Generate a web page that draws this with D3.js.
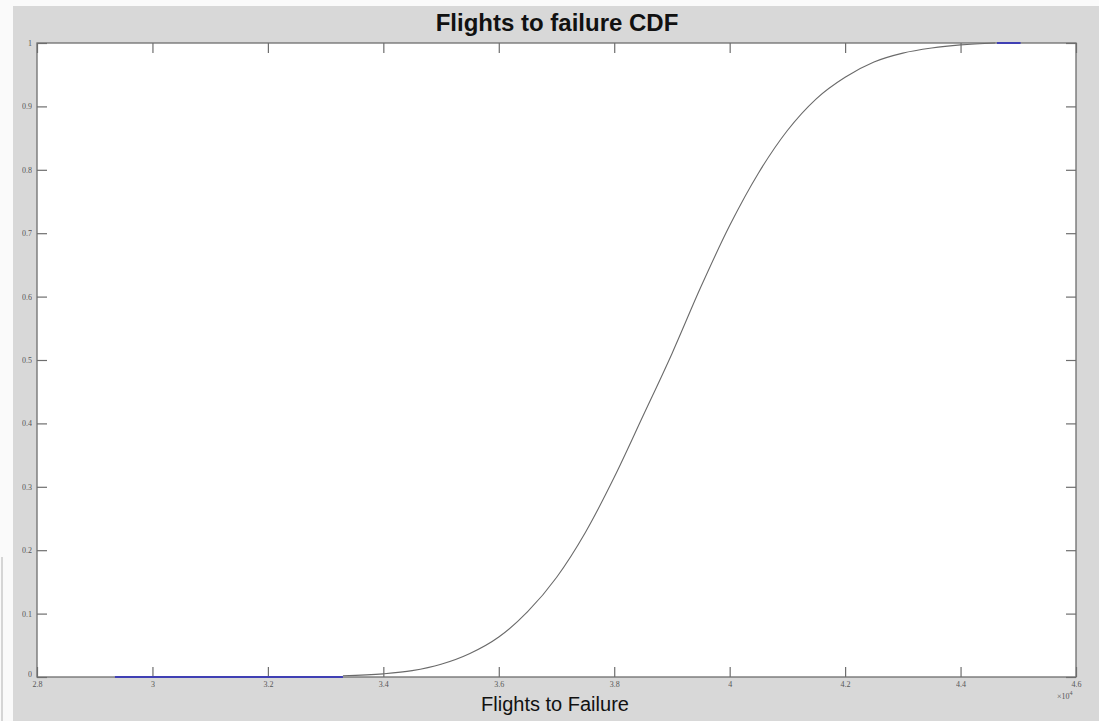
<!DOCTYPE html>
<html>
<head>
<meta charset="utf-8">
<script src="https://cdn.jsdelivr.net/npm/d3@7"></script>
<style>
  html, body { margin: 0; padding: 0; background: #ffffff; }
  svg { display: block; font-family: "Liberation Sans", Arial, Helvetica, sans-serif; }
  .tick text, .expo { opacity: 0.95; }
</style>
</head>
<body>
<svg id="chart" width="1099" height="721"></svg>
<script>
// Flights to failure (x 10^4) and cumulative probability along the CDF curve
const cdfFlights = [3.33, 3.40, 3.45, 3.50, 3.55, 3.60, 3.65, 3.70, 3.75, 3.80, 3.85,
                    3.90, 3.95, 4.00, 4.05, 4.10, 4.15, 4.20, 4.25, 4.30, 4.35, 4.40, 4.46];
const cdfProb    = [0.002, 0.005, 0.010, 0.020, 0.037, 0.063, 0.103, 0.157, 0.228, 0.315, 0.412,
                    0.510, 0.615, 0.712, 0.795, 0.862, 0.912, 0.946, 0.970, 0.984, 0.992, 0.997, 1.000];

// Sample data plotted underneath: lower tail and upper tail segments
const lowFlights  = [2.935, 3.330];
const lowProb     = [0.000, 0.000];
const highFlights = [4.463, 4.504];
const highProb    = [1.000, 1.000];

const xTicks = [2.8, 3.0, 3.2, 3.4, 3.6, 3.8, 4.0, 4.2, 4.4, 4.6];
const xTickLabels = ["2.8", "3", "3.2", "3.4", "3.6", "3.8", "4", "4.2", "4.4", "4.6"];
const yTicks = [0, 0.1, 0.2, 0.3, 0.4, 0.5, 0.6, 0.7, 0.8, 0.9, 1];
const yTickLabels = ["0", "0.1", "0.2", "0.3", "0.4", "0.5", "0.6", "0.7", "0.8", "0.9", "1"];

const titleText = "Flights to failure CDF";
const xLabelText = "Flights to Failure";

const svg = d3.select("#chart");
const W = 1099, H = 721;
const plot = { left: 37, right: 1076, top: 43, bottom: 677 };

// Figure background
svg.append("rect").attr("x", 0).attr("y", 0).attr("width", W).attr("height", H).attr("fill", "#fafafa");
svg.append("rect").attr("x", 13).attr("y", 6).attr("width", W - 13).attr("height", H - 6).attr("fill", "#d8d8d8");
svg.append("line").attr("x1", 2).attr("x2", 2).attr("y1", 557).attr("y2", H)
  .attr("stroke", "#c8c8c8").attr("stroke-width", 1.5);

const x = d3.scaleLinear().domain([2.8, 4.6]).range([plot.left, plot.right]);
const y = d3.scaleLinear().domain([0, 1]).range([plot.bottom, plot.top]);

// Axes area
svg.append("rect")
  .attr("x", plot.left).attr("y", plot.top)
  .attr("width", plot.right - plot.left).attr("height", plot.bottom - plot.top)
  .attr("fill", "#ffffff");

const tickLen = 10;
const axisColor = "#6e6e6e";
const labelColor = "#505050";

function styleAxis(g) {
  g.select(".domain").remove();
  g.selectAll(".tick line").attr("stroke", axisColor).attr("stroke-width", 1.2);
  g.selectAll(".tick text").attr("fill", labelColor).attr("font-size", 8)
    .attr("font-family", "'Liberation Serif', 'DejaVu Serif', serif");
}

// Bottom axis, ticks pointing inward
svg.append("g").attr("transform", `translate(0,${plot.bottom})`)
  .call(d3.axisBottom(x).tickValues(xTicks).tickSizeInner(-tickLen).tickSizeOuter(0).tickPadding(4)
    .tickFormat((d, i) => xTickLabels[i]))
  .call(styleAxis);

// Top axis, ticks only
svg.append("g").attr("transform", `translate(0,${plot.top})`)
  .call(d3.axisTop(x).tickValues(xTicks).tickSizeInner(-tickLen).tickSizeOuter(0).tickFormat(""))
  .call(styleAxis);

// Left axis
svg.append("g").attr("transform", `translate(${plot.left},0)`)
  .call(d3.axisLeft(y).tickValues(yTicks).tickSizeInner(-tickLen).tickSizeOuter(0).tickPadding(5)
    .tickFormat((d, i) => yTickLabels[i]))
  .call(styleAxis);

// Right axis, ticks only
svg.append("g").attr("transform", `translate(${plot.right},0)`)
  .call(d3.axisRight(y).tickValues(yTicks).tickSizeInner(-tickLen).tickSizeOuter(0).tickFormat(""))
  .call(styleAxis);

// Lift the corner "0" label slightly above the "2.8" label
svg.selectAll("g .tick text").filter(function() { return this.textContent === "0"; })
  .attr("dy", "-0.1em");

// Plot box
svg.append("rect")
  .attr("x", plot.left).attr("y", plot.top)
  .attr("width", plot.right - plot.left).attr("height", plot.bottom - plot.top)
  .attr("fill", "none").attr("stroke", axisColor).attr("stroke-width", 1.3);

// Exponent label for the x axis
const expo = svg.append("text")
  .attr("class", "expo")
  .attr("x", 1057).attr("y", 699)
  .attr("fill", labelColor).attr("font-size", 8)
  .attr("font-family", "'Liberation Serif', 'DejaVu Serif', serif");
expo.append("tspan").text("\u00d710");
expo.append("tspan").attr("dy", -4).attr("font-size", 6).text("4");

// Series
const straight = d3.line().x(d => x(d[0])).y(d => y(d[1]));
const smooth = d3.line().x(d => x(d[0])).y(d => y(d[1])).curve(d3.curveMonotoneX);

[[lowFlights, lowProb], [highFlights, highProb]].forEach(([fx, fp]) => {
  svg.append("path")
    .datum(fx.map((v, i) => [v, fp[i]]))
    .attr("d", straight)
    .attr("fill", "none").attr("stroke", "#4040b4").attr("stroke-width", 2);
});

svg.append("path")
  .datum(cdfFlights.map((v, i) => [v, cdfProb[i]]))
  .attr("d", smooth)
  .attr("fill", "none").attr("stroke", "#6a6a6a").attr("stroke-width", 1.1);

// Title and axis label
svg.append("text")
  .attr("x", 557).attr("y", 31).attr("text-anchor", "middle")
  .attr("font-size", 24).attr("font-weight", "bold").attr("fill", "#111")
  .text(titleText);

svg.append("text")
  .attr("x", 555).attr("y", 711).attr("text-anchor", "middle")
  .attr("font-size", 20).attr("fill", "#111")
  .text(xLabelText);
</script>
</body>
</html>
